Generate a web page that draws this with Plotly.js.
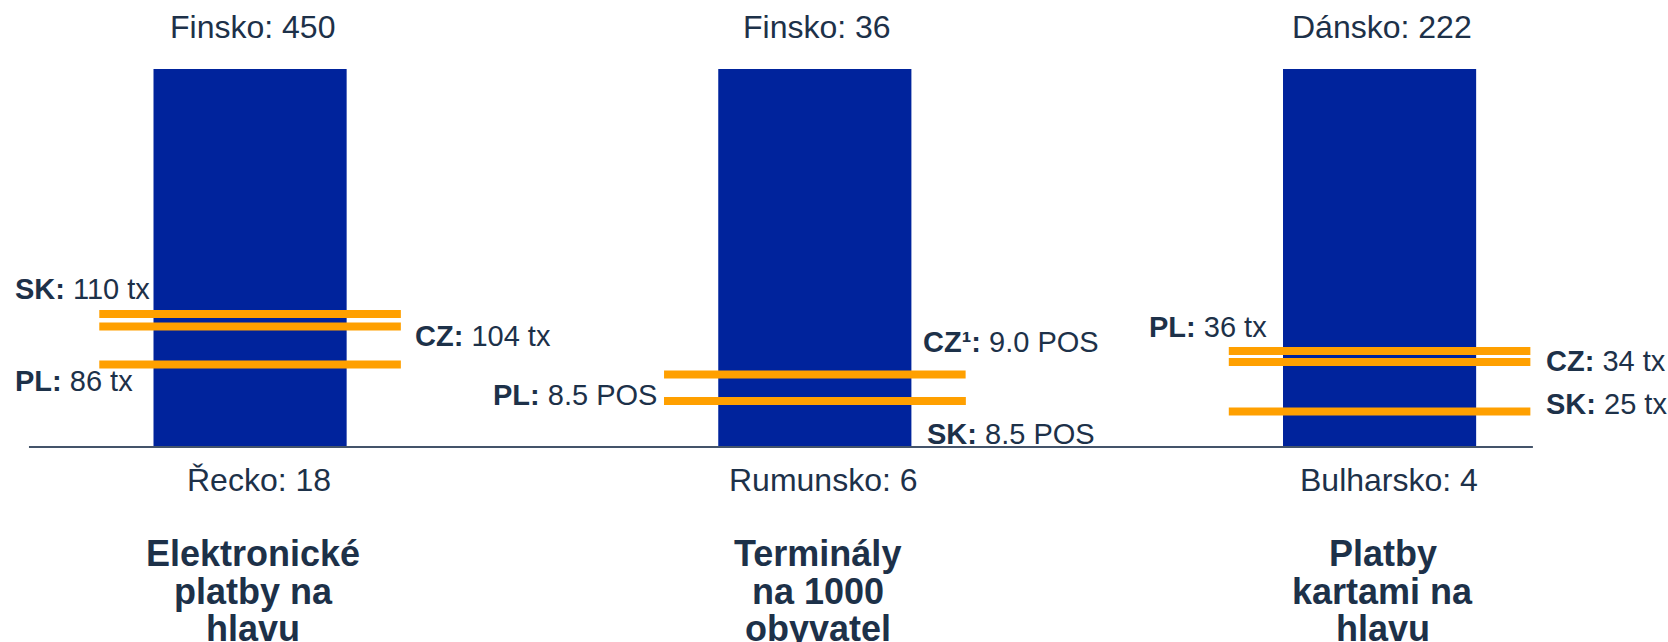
<!DOCTYPE html>
<html>
<head>
<meta charset="utf-8">
<script src="https://cdn.plot.ly/plotly-3.0.1.min.js"></script>
<style>
  html, body { margin: 0; padding: 0; background: #ffffff; }
  #chart { width: 1668px; height: 642px; }
</style>
</head>
<body>
<div id="chart"></div>
<script>
// ---------------- DATA ----------------
const panelTitles = [
  ["Elektronické", "platby na", "hlavu"],
  ["Terminály", "na 1000", "obyvatel"],
  ["Platby", "kartami na", "hlavu"]
];
const maxCountries = ["Finsko", "Finsko", "Dánsko"];
const maxValues = [450, 36, 222];
const minCountries = ["Řecko", "Rumunsko", "Bulharsko"];
const minValues = [18, 6, 4];
const units = ["tx", "POS", "tx"];
const countryCodes = [
  ["SK", "CZ", "PL"],
  ["CZ¹", "PL", "SK"],
  ["PL", "CZ", "SK"]
];
const countryValues = [
  [110, 104, 86],
  [9.0, 8.5, 8.5],
  [36, 34, 25]
];

// ---------------- STYLE ----------------
const FONT = "Liberation Sans, Arial, Helvetica, sans-serif";
const TEXT = "#1d3149";
const BAR = "#00239c";
const ORANGE = "#ffa000";
const AXISLINE = "#44546a";
const valueDecimals = [0, 1, 0];
const barWidth = 0.342;
const lineHalf = 0.267;
// schematic scale for the indicator lines of each panel
const lineRanges = [[46.67, 226.67], [7.632, 14.76], [18.55, 87.27]];
// label placement per panel / country: [xanchor, dx (x units), dy (px)]
const labelPlace = [
  [["left", -0.4205, 25], ["left", 0.2877, -9], ["left", -0.4205, -17]],
  [["left", 0.1877, 32], ["right", -0.276, 6], ["left", 0.195, -33]],
  [["right", -0.195, 24], ["left", 0.292, 1], ["left", 0.292, 8]]
];
const titleShifts = [-106, -144, -181];

// ---------------- BUILD ----------------
const traces = [];
const annotations = [];
const layout = {
  width: 1668, height: 642,
  margin: {l: 0, r: 0, t: 69, b: 195, pad: 0},
  paper_bgcolor: "#ffffff", plot_bgcolor: "rgba(0,0,0,0)",
  showlegend: false,
  font: {family: FONT, color: TEXT},
  xaxis: {range: [-0.4428, 2.5107], visible: false, fixedrange: true},
  shapes: [{
    type: "line", xref: "x", yref: "paper",
    x0: -0.3915, x1: 2.2715, y0: 0, y1: 0,
    line: {color: AXISLINE, width: 2}
  }],
  annotations: annotations
};

maxValues.forEach((mx, p) => {
  const barAx = p === 0 ? "y" : "y" + (p + 1);
  const lineAx = "y" + (p + 4);
  const barKey = p === 0 ? "yaxis" : "yaxis" + (p + 1);
  const lineKey = "yaxis" + (p + 4);
  const mn = minValues[p];

  layout[barKey] = {range: [mn, mx], visible: false, fixedrange: true, anchor: "x"};
  if (p > 0) layout[barKey].overlaying = "y";
  layout[lineKey] = {range: lineRanges[p], visible: false, fixedrange: true, anchor: "x", overlaying: "y"};

  traces.push({
    type: "bar", x: [p], y: [mx - mn], base: [mn], width: barWidth,
    marker: {color: BAR, line: {width: 0}},
    yaxis: barAx, hoverinfo: "skip"
  });

  countryValues[p].forEach((v, j) => {
    traces.push({
      type: "scatter", mode: "lines",
      x: [p - lineHalf, p + lineHalf], y: [v, v],
      line: {color: ORANGE, width: 8},
      yaxis: lineAx, hoverinfo: "skip"
    });
    const pl = labelPlace[p][j];
    annotations.push({
      xref: "x", yref: lineAx, x: p + pl[1], y: v,
      xanchor: pl[0], yanchor: "middle", yshift: pl[2],
      showarrow: false,
      text: "<b>" + countryCodes[p][j] + ":</b> " + v.toFixed(valueDecimals[p]) + " " + units[p],
      font: {family: FONT, size: 29, color: TEXT}
    });
  });

  annotations.push({
    xref: "x", yref: barAx, x: p, y: mx, xanchor: "center", yanchor: "middle",
    yshift: 42, xshift: 2, showarrow: false,
    text: maxCountries[p] + ": " + mx,
    font: {family: FONT, size: 32, color: TEXT}
  });
  annotations.push({
    xref: "x", yref: barAx, x: p, y: mn, xanchor: "center", yanchor: "middle",
    yshift: -33, xshift: 9, showarrow: false,
    text: minCountries[p] + ": " + mn,
    font: {family: FONT, size: 32, color: TEXT}
  });
  panelTitles[p].forEach((line, k) => {
    annotations.push({
      xref: "x", yref: "paper", x: p, y: 0, xanchor: "center", yanchor: "middle",
      yshift: titleShifts[k], xshift: 3, showarrow: false,
      text: "<b>" + line + "</b>",
      font: {family: FONT, size: 36, color: TEXT}
    });
  });
});

Plotly.newPlot("chart", traces, layout, {staticPlot: true, displayModeBar: false});
</script>
</body>
</html>
